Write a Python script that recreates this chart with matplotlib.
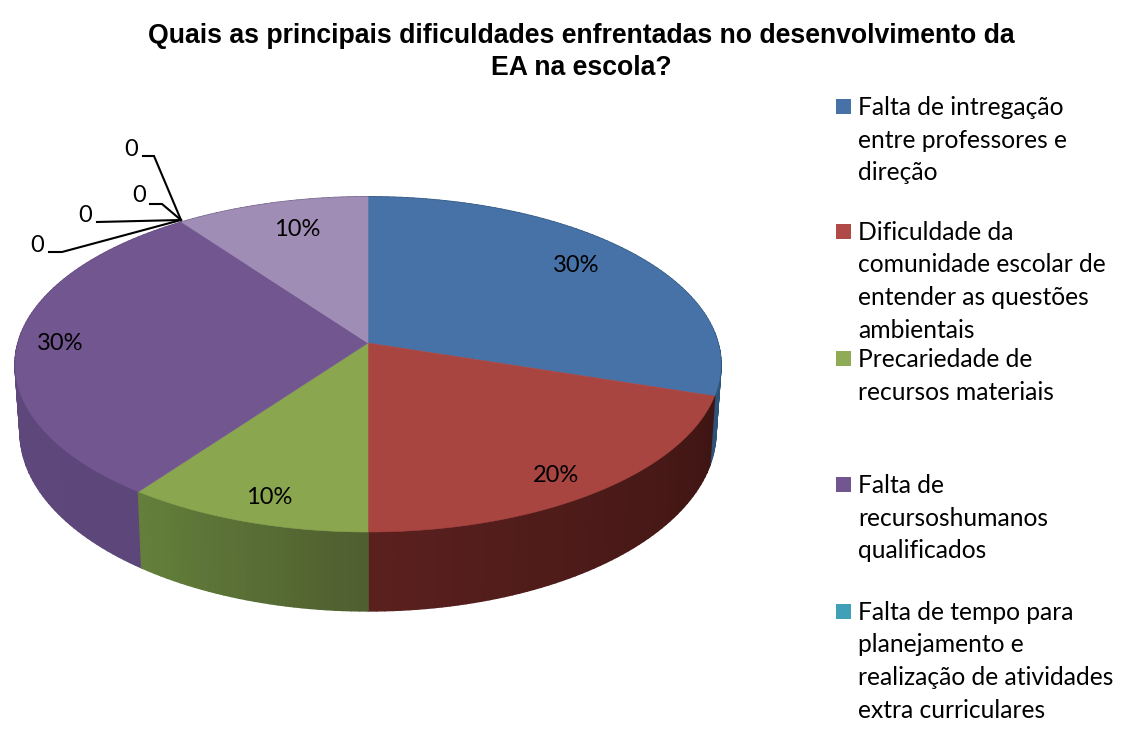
import numpy as np
import matplotlib
matplotlib.use("Agg")
import matplotlib.pyplot as plt
from matplotlib.collections import PolyCollection
from matplotlib.colors import to_rgb
from matplotlib.patches import Polygon, Rectangle

title = "Quais as principais dificuldades enfrentadas no desenvolvimento da\nEA na escola?"
legend_names = ["Falta de intregação\nentre professores e\ndireção",
                "Dificuldade da\ncomunidade escolar de\nentender as questões\nambientais",
                "Precariedade de\nrecursos materiais",
                "Falta de\nrecursoshumanos\nqualificados",
                "Falta de tempo para\nplanejamento e\nrealização de atividades\nextra curriculares"]
point_labels = ["30%", "20%", "10%", "30%", "0", "0", "0", "0", "10%"]
values = [30, 20, 10, 30, 0, 0, 0, 0, 10]

top_colors = ["#4672A8", "#A84541", "#8AA64F", "#72568F", "#4BACC6", "#F79646", "#2C4D75", "#772C2A", "#A08DB6"]
wall_start = ["#2E5378", "#3E1513", "#4F5E30", "#5D4679", "#30788A", "#A86020", "#1E3550", "#501C1A", "#6A5A80"]
wall_end = ["#2E5378", "#5A201E", "#64803B", "#604A7E", "#30788A", "#A86020", "#1E3550", "#501C1A", "#6A5A80"]
legend_colors = ["#4672A8", "#B04A47", "#8FAB55", "#72568F", "#3FA0B8"]

CX, CY, A, B, K = 368.0, 343.0, 350.0, 164.8, 0.128
CY2, A2, B2 = 409.0, 345.0, 176.0

def top_xy(t):
    X, Y = np.sin(t), np.cos(t)
    d = 1 + K * Y
    return CX + A * X / d, CY - B * Y / d

def bottom_xy(t):
    X, Y = np.sin(t), np.cos(t)
    d = 1 + K * Y
    return CX + A2 * X / d, CY2 - B2 * Y / d

fig = plt.figure(figsize=(11.24, 7.3), dpi=100, facecolor="white")
ax = fig.add_axes([0, 0, 1, 1])
ax.set_xlim(0, 1124)
ax.set_ylim(730, 0)
ax.axis("off")

edges = np.deg2rad(np.cumsum([0] + values) * 3.6)

# side walls, back to front
polys, cols, depth = [], [], []
for i, v in enumerate(values):
    if v == 0:
        continue
    n = max(int(v * 3), 2)
    ts = np.linspace(edges[i], edges[i + 1], n + 1)
    c0, c1 = np.array(to_rgb(wall_start[i])), np.array(to_rgb(wall_end[i]))
    for j in range(n):
        a, b = ts[j], ts[j + 1]
        xa, ya = top_xy(a); xb, yb = top_xy(b)
        xc, yc = bottom_xy(b); xd, yd = bottom_xy(a)
        polys.append([(xa, ya), (xb, yb), (xc, yc), (xd, yd)])
        cols.append(c0 + (c1 - c0) * (j + 0.5) / n)
        depth.append(np.cos((a + b) / 2))
order = np.argsort(depth)[::-1]
ax.add_collection(PolyCollection([polys[o] for o in order],
                                 facecolors=[cols[o] for o in order],
                                 edgecolors=[cols[o] for o in order],
                                 linewidths=1.2, zorder=2))

# top faces
for i, v in enumerate(values):
    if v == 0:
        continue
    ts = np.linspace(edges[i], edges[i + 1], 120)
    xs, ys = top_xy(ts)
    pts = np.column_stack([np.r_[CX, xs], np.r_[CY, ys]])
    ax.add_patch(Polygon(pts, closed=True, facecolor=top_colors[i],
                         edgecolor=top_colors[i], linewidth=0.4, zorder=3))

# data labels
label_pos = [(576, 266), (556, 476), (269, 498), (60, 343), (37, 246), (85, 216), (139, 196), (131, 150), (297, 230)]
for text, (x, y) in zip(point_labels, label_pos):
    ax.text(x, y, text, ha="center", va="center", fontsize=17, family="Lato", color="black", zorder=6)

# leader lines
hub = (181, 220)
leaders = [[(49, 252), (62, 252), hub], [(97, 222), hub], [(150, 204), (162, 204), hub], [(143, 156), (154, 156), hub]]
for line in leaders:
    xs, ys = zip(*line)
    ax.plot(xs, ys, color="black", lw=1.5, zorder=5, solid_joinstyle="miter")

# title
ax.text(581, 52, title, ha="center", va="center", fontsize=19.2, fontweight="bold",
        family="Liberation Sans", color="black", linespacing=1.3)

# legend
legend_centers = [106, 231, 358, 484, 611]
for name, col, y in zip(legend_names, legend_colors, legend_centers):
    ax.add_patch(Rectangle((836, y - 7.5), 15, 15, facecolor=col, edgecolor="none"))
    ax.text(858, y - 10, name, ha="left", va="top", fontsize=17.7, family="Lato",
            color="black", linespacing=1.5)

fig.savefig("out.png", dpi=100, facecolor="white")
